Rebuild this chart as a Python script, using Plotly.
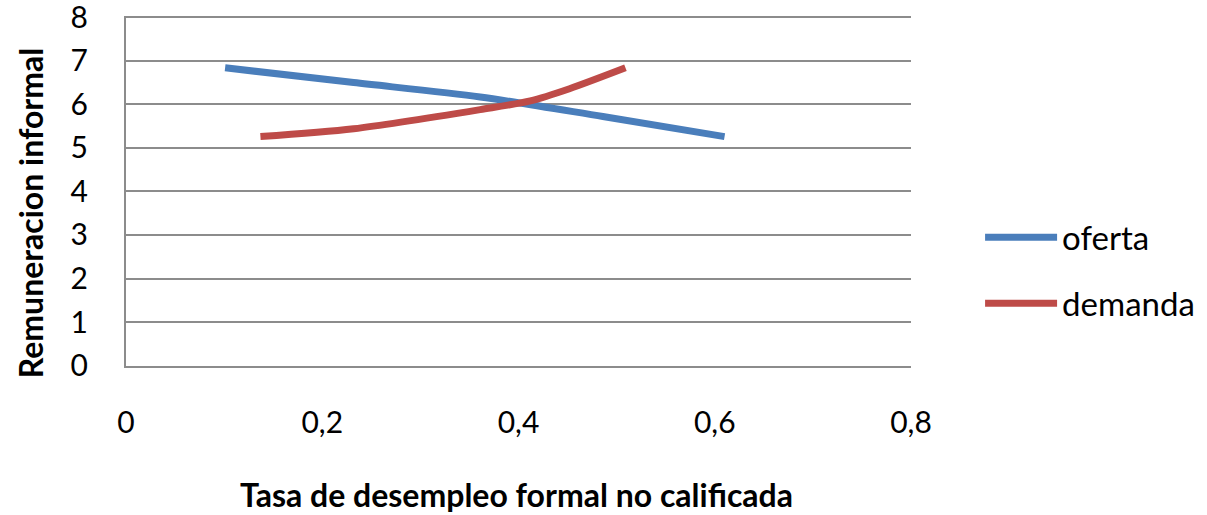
import plotly.graph_objects as go

# Data (smoothed scatter lines)
oferta_x = [0.101, 0.232, 0.361, 0.486, 0.610]
oferta_y = [6.84, 6.50, 6.17, 5.72, 5.26]
demanda_x = [0.137, 0.232, 0.361, 0.412, 0.452, 0.509]
demanda_y = [5.26, 5.44, 5.88, 6.08, 6.36, 6.84]

x_ticks = [0, 0.2, 0.4, 0.6, 0.8]
x_labels = ["0", "0,2", "0,4", "0,6", "0,8"]
y_ticks = [0, 1, 2, 3, 4, 5, 6, 7, 8]

FONT = "Lato"
GRID = "#8c8c8c"

fig = go.Figure()
fig.add_trace(go.Scatter(x=oferta_x, y=oferta_y, mode="lines", name="oferta",
                         legendgroup="a",
                         line=dict(color="#4a7ebb", width=7, shape="spline", smoothing=0.8)))
fig.add_trace(go.Scatter(x=demanda_x, y=demanda_y, mode="lines", name="demanda",
                         legendgroup="b",
                         line=dict(color="#be4b48", width=7, shape="spline", smoothing=0.8)))

fig.update_layout(
    width=1207, height=515,
    margin=dict(l=126, r=296, t=16, b=149, autoexpand=False),
    paper_bgcolor="white", plot_bgcolor="white",
    font=dict(family=FONT, size=30, color="black"),
    showlegend=True,
    legend=dict(xref="container", yref="container", x=0.812, y=0.475,
                xanchor="left", yanchor="middle",
                font=dict(family=FONT, size=33, color="black"),
                itemwidth=72, tracegroupgap=20, bgcolor="rgba(0,0,0,0)"),
    xaxis=dict(range=[0, 0.8], tickvals=x_ticks, ticktext=x_labels,
               showgrid=False, zeroline=False, showline=True, linecolor=GRID, linewidth=2,
               ticks="", ticklabelstandoff=29, automargin=False,
               ticklabeloverflow="allow"),
    yaxis=dict(range=[-0.01, 8.03], tickvals=y_ticks,
               showgrid=True, gridcolor=GRID, gridwidth=2,
               zeroline=False, showline=True, linecolor=GRID, linewidth=2,
               ticks="", ticklabelstandoff=30, automargin=False,
               ticklabeloverflow="allow"),
    annotations=[
        dict(text="<b>Tasa de desempleo formal no calificada</b>", xref="paper", yref="paper",
             x=0.498, y=-0.366, xanchor="center", yanchor="middle", showarrow=False,
             font=dict(family=FONT, size=32, color="black")),
        dict(text="<b>Remuneracion informal</b>", xref="paper", yref="paper",
             x=-0.122, y=0.437, xanchor="center", yanchor="middle", showarrow=False,
             textangle=-90, font=dict(family=FONT, size=32, color="black")),
    ],
)

fig.write_html("out.html")
